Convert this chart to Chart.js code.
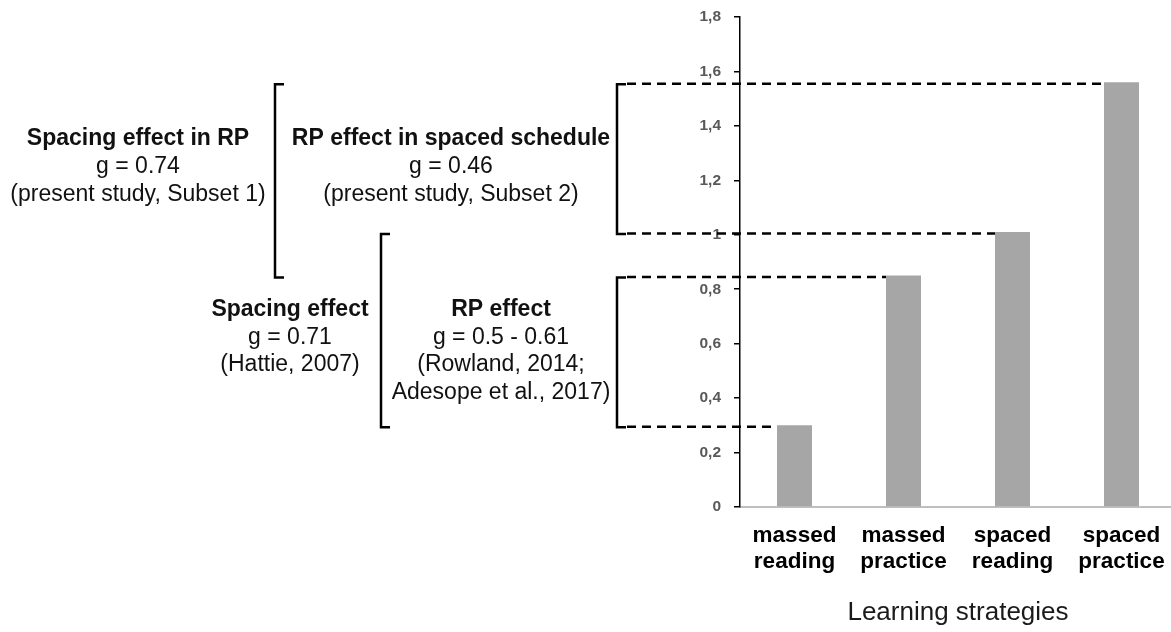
<!DOCTYPE html>
<html>
<head>
<meta charset="utf-8">
<title>Learning strategies</title>
<script src="https://cdn.jsdelivr.net/npm/chart.js@4.4.0/dist/chart.umd.min.js"></script>
<style>
  html, body { margin: 0; padding: 0; background: #fff; overflow: hidden; }
  #wrap { position: relative; width: 1176px; height: 632px; }
</style>
</head>
<body>
<div id="wrap"><canvas id="chart" width="1176" height="632"></canvas></div>
<script>
// data
const categories = [['massed', 'reading'], ['massed', 'practice'], ['spaced', 'reading'], ['spaced', 'practice']];
const values = [0.30, 0.85, 1.01, 1.56];
const yTickLabels = ['0', '0,2', '0,4', '0,6', '0,8', '1', '1,2', '1,4', '1,6', '1,8'];
const xTitle = 'Learning strategies';

const noteTexts = [
  ['Spacing effect in RP', 'g = 0.74', '(present study, Subset 1)'],
  ['RP effect in spaced schedule', 'g = 0.46', '(present study, Subset 2)'],
  ['Spacing effect', 'g = 0.71', '(Hattie, 2007)'],
  ['RP effect', 'g = 0.5 - 0.61', '(Rowland, 2014;', 'Adesope et al., 2017)']
];
// bracket i spans from bar a (top) to bar b (bottom)
const bracketBars = [[3, 1], [3, 2], [2, 0], [1, 0]];

const FONT = '"Liberation Sans", Arial, sans-serif';

// where the notes and brackets sit on the page
const noteLayout = [
  { x: 138, y: 139, gap: 28 },
  { x: 451, y: 139, gap: 28 },
  { x: 290, y: 310, gap: 27.5 },
  { x: 501, y: 310, gap: 27.5 }
];
const bracketX = [275, 617, 381, 617];
const serif = 9;
const dashStartX = 627;

const notesPlugin = {
  id: 'notes',
  afterDraw(chart) {
    const ctx = chart.ctx;
    const y = chart.scales.y;
    const bars = chart.getDatasetMeta(0).data;
    ctx.save();

    // texts
    ctx.fillStyle = '#111';
    ctx.textAlign = 'center';
    ctx.textBaseline = 'middle';
    noteTexts.forEach((lines, i) => {
      const l = noteLayout[i];
      lines.forEach((t, j) => {
        ctx.font = (j === 0 ? 'bold 23px ' : '23px ') + FONT;
        ctx.fillText(t, l.x, l.y + j * l.gap);
      });
    });

    // brackets
    ctx.strokeStyle = '#000';
    ctx.lineWidth = 2.5;
    bracketBars.forEach((pair, i) => {
      const x = bracketX[i];
      const y1 = y.getPixelForValue(values[pair[0]]) + 2;
      const y2 = y.getPixelForValue(values[pair[1]]) + 2;
      ctx.beginPath();
      ctx.moveTo(x + serif, y1);
      ctx.lineTo(x, y1);
      ctx.lineTo(x, y2);
      ctx.lineTo(x + serif, y2);
      ctx.stroke();
    });

    // dashed guides from the right brackets to the bars
    ctx.setLineDash([9, 6]);
    [3, 2, 1, 0].forEach(i => {
      const bar = bars[i];
      const yy = y.getPixelForValue(values[i]) + 1.5;
      ctx.beginPath();
      ctx.moveTo(dashStartX, yy);
      ctx.lineTo(bar.x - bar.width / 2, yy);
      ctx.stroke();
    });
    ctx.restore();
  }
};

new Chart(document.getElementById('chart'), {
  type: 'bar',
  data: {
    labels: categories,
    datasets: [{
      data: values,
      backgroundColor: '#a6a6a6',
      borderWidth: 0,
      categoryPercentage: 1,
      barPercentage: 0.321
    }]
  },
  options: {
    responsive: false,
    animation: false,
    layout: { padding: { top: 17, left: 0, right: 0, bottom: 0 } },
    plugins: { legend: { display: false }, tooltip: { enabled: false } },
    scales: {
      x: {
        grid: { display: false, drawTicks: false },
        border: { display: true, color: '#bfbfbf', width: 2 },
        ticks: {
          color: '#000',
          font: { family: FONT, size: 22.5, weight: 'bold', lineHeight: 1.16 },
          padding: 16,
          maxRotation: 0,
          autoSkip: false
        },
        title: {
          display: true,
          text: xTitle,
          color: '#1a1a1a',
          font: { family: FONT, size: 26 },
          padding: { top: 0, bottom: 4 }
        },
        afterFit(scale) {
          scale.height = 125;
          scale.paddingLeft = 0;
          scale.paddingRight = 0;
        }
      },
      y: {
        min: 0,
        max: 1.8,
        grid: { drawOnChartArea: false, drawTicks: true, tickLength: 6, color: '#000', lineWidth: 1.5 },
        border: { display: true, color: '#000', width: 1.5 },
        ticks: {
          stepSize: 0.2,
          padding: 13,
          color: '#595959',
          font: { family: FONT, size: 15.5, weight: 'bold' },
          callback: (v, i) => yTickLabels[i]
        },
        afterFit(scale) {
          scale.width = 740;
          scale.paddingTop = 0;
          scale.paddingBottom = 0;
        }
      }
    }
  },
  plugins: [notesPlugin]
});
</script>
</body>
</html>
